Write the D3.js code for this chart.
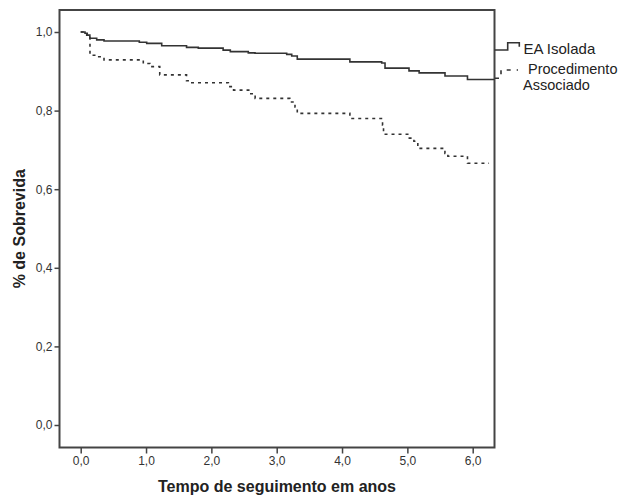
<!DOCTYPE html>
<html>
<head>
<meta charset="utf-8">
<script src="https://cdn.jsdelivr.net/npm/d3@7"></script>
<style>
  body { margin: 0; background: #fff; }
  svg { display: block; font-family: "Liberation Sans", Arial, sans-serif; }
</style>
</head>
<body>
<svg id="chart" width="627" height="496"></svg>
<script>
// survival steps: [time in years, survival]
var eaTimes = [0, 0.066, 0.10, 0.14, 0.245, 0.357, 0.897, 1.01, 1.24, 1.62, 1.80, 2.18, 2.29, 2.565, 2.668, 3.153, 3.23, 3.315, 4.12, 4.607, 4.658, 5.025, 5.18, 5.576, 5.92, 6.33];
var eaSurv  = [1.0, 0.997, 0.992, 0.984, 0.980, 0.977, 0.974, 0.971, 0.965, 0.961, 0.959, 0.954, 0.950, 0.947, 0.946, 0.943, 0.939, 0.931, 0.924, 0.921, 0.908, 0.901, 0.896, 0.888, 0.879, 0.879];

var paTimes = [0, 0.092, 0.142, 0.25, 0.357, 0.958, 1.06, 1.21, 1.62, 1.68, 2.26, 2.34, 2.59, 2.67, 3.20, 3.28, 3.315, 4.12, 4.62, 4.635, 5.03, 5.10, 5.16, 5.575, 5.62, 5.92, 6.25];
var paSurv  = [1.0, 0.992, 0.941, 0.937, 0.929, 0.920, 0.912, 0.891, 0.876, 0.871, 0.861, 0.852, 0.843, 0.831, 0.822, 0.809, 0.793, 0.780, 0.763, 0.740, 0.730, 0.722, 0.704, 0.691, 0.684, 0.666, 0.666];

var xTicks = [0, 1, 2, 3, 4, 5, 6];
var yTicks = [0, 0.2, 0.4, 0.6, 0.8, 1.0];
var legendLabels = ["EA Isolada", ["Procedimento", "Associado"]];

const svg = d3.select("#chart");
var boxL = 59.5, boxR = 494.5, boxT = 10, boxB = 447.5;

var x = d3.scaleLinear().domain([0, 6]).range([80.7, 472.7]);
var y = d3.scaleLinear().domain([0, 1]).range([425, 32]);
var fmt = function(d) { return d3.format(".1f")(d).replace(".", ","); };

// frame
svg.append("rect")
    .attr("x", boxL).attr("y", boxT)
    .attr("width", boxR - boxL).attr("height", boxB - boxT)
    .attr("fill", "none").attr("stroke", "#444").attr("stroke-width", 2);

// y axis ticks
var yAxis = svg.append("g").attr("transform", "translate(" + boxL + ",0)")
    .call(d3.axisLeft(y).tickValues(yTicks).tickSize(5).tickFormat(fmt));
yAxis.select(".domain").remove();
yAxis.selectAll("line").attr("stroke", "#444").attr("stroke-width", 1.5);
yAxis.selectAll("text").attr("fill", "#333").style("font-size", "12px").attr("x", -7);

// x axis ticks
var xAxis = svg.append("g").attr("transform", "translate(0," + boxB + ")")
    .call(d3.axisBottom(x).tickValues(xTicks).tickSize(6).tickFormat(fmt));
xAxis.select(".domain").remove();
xAxis.selectAll("line").attr("stroke", "#444").attr("stroke-width", 1.5);
xAxis.selectAll("text").attr("fill", "#333").style("font-size", "12px").attr("y", 9);

// axis titles
svg.append("text")
    .attr("x", (boxL + boxR) / 2).attr("y", 492)
    .attr("text-anchor", "middle")
    .style("font-size", "16px").style("font-weight", "bold").attr("fill", "#222")
    .text("Tempo de seguimento em anos");

svg.append("text")
    .attr("transform", "translate(25," + ((boxT + boxB) / 2) + ") rotate(-90)")
    .attr("text-anchor", "middle")
    .style("font-size", "16px").style("font-weight", "bold").attr("fill", "#222")
    .text("% de Sobrevida");

// curves
var line = d3.line()
    .x(function(d) { return x(d[0]); })
    .y(function(d) { return y(d[1]); })
    .curve(d3.curveStepAfter);

svg.append("path")
    .datum(d3.zip(eaTimes, eaSurv))
    .attr("d", line)
    .attr("fill", "none").attr("stroke", "#333").attr("stroke-width", 1.6);

svg.append("path")
    .datum(d3.zip(paTimes, paSurv))
    .attr("d", line)
    .attr("fill", "none").attr("stroke", "#333").attr("stroke-width", 1.6)
    .attr("stroke-dasharray", "3,4");

// legend
svg.append("path")
    .attr("d", "M494.5,50H507.7V42.7H519.3V46.7")
    .attr("fill", "none").attr("stroke", "#333").attr("stroke-width", 1.6);
svg.append("path")
    .attr("d", "M495,78.3H501V70H518")
    .attr("fill", "none").attr("stroke", "#333").attr("stroke-width", 1.6)
    .attr("stroke-dasharray", "4,6");

svg.append("text").attr("x", 523.5).attr("y", 53.5)
    .style("font-size", "15px").attr("fill", "#222")
    .text(legendLabels[0]);
svg.append("text").attr("x", 528).attr("y", 73.5)
    .style("font-size", "14.5px").attr("fill", "#222")
    .text(legendLabels[1][0]);
svg.append("text").attr("x", 523).attr("y", 90)
    .style("font-size", "14.5px").attr("fill", "#222")
    .text(legendLabels[1][1]);
</script>
</body>
</html>
